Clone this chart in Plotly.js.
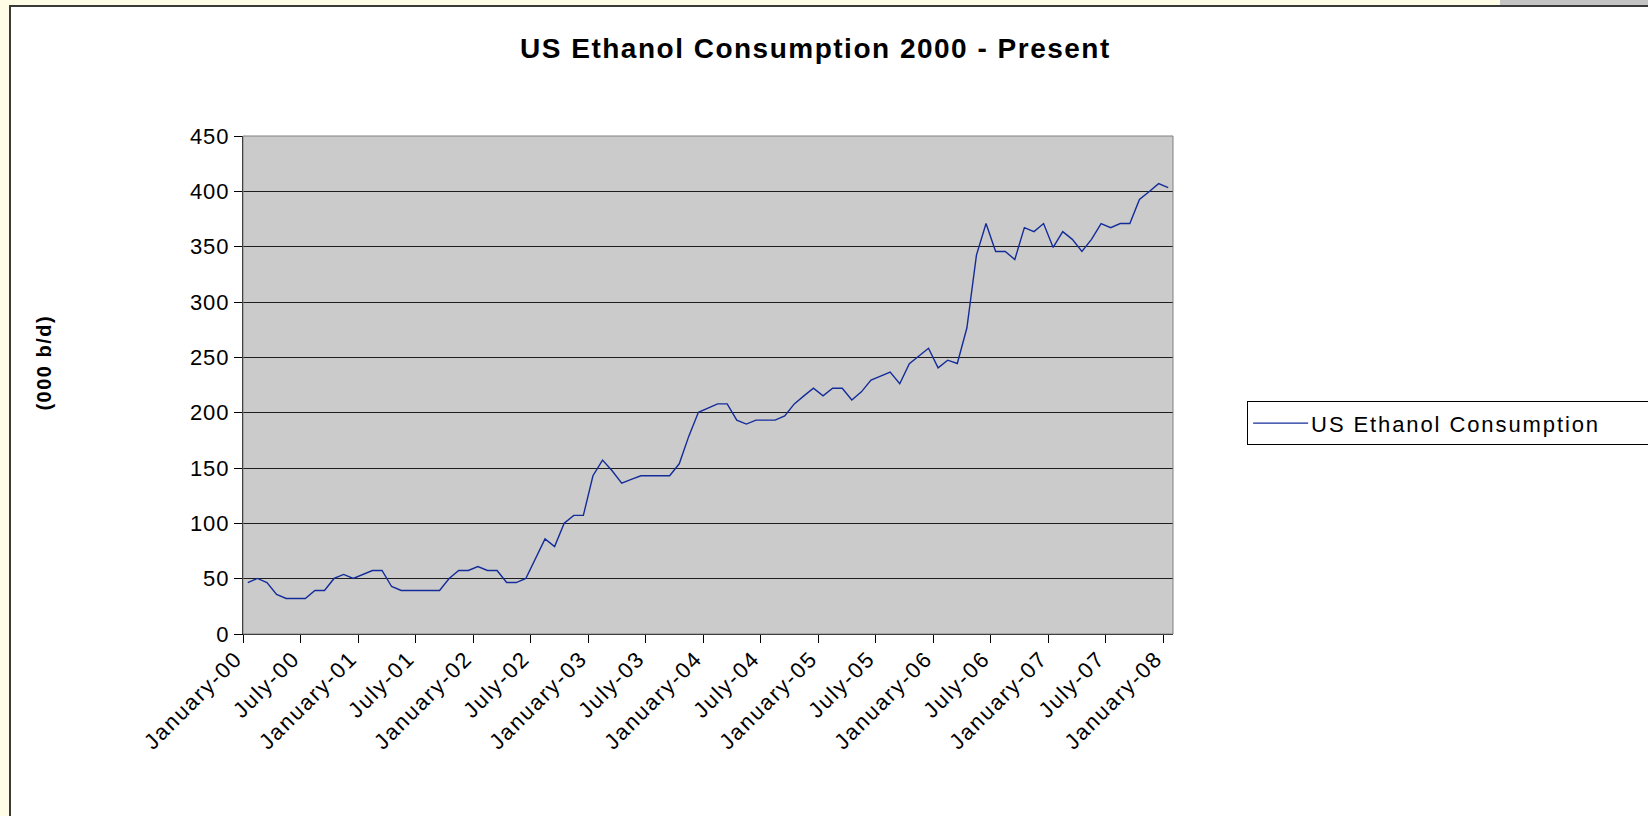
<!DOCTYPE html>
<html>
<head>
<meta charset="utf-8">
<script src="https://cdn.plot.ly/plotly-3.0.1.min.js"></script>
<style>
  html, body { margin: 0; padding: 0; width: 1648px; height: 816px; overflow: hidden; background: #fffde6; }
  #frame { position: absolute; left: 9px; top: 5px; width: 1639px; height: 811px; background: #ffffff;
           border-left: 2px solid #3a3a3a; border-top: 2px solid #3a3a3a; box-sizing: border-box; }
  #corner { position: absolute; left: 1500px; top: 0; width: 148px; height: 5px; background: #c4c4c4; }
  #chart { position: absolute; left: 0; top: 0; width: 1648px; height: 816px; }
  .gtitle { letter-spacing: 1.5px; }
  .xtick text { letter-spacing: 1.8px; }
  .ytick text { letter-spacing: 1px; }
  .legendtext { letter-spacing: 1.9px; }
  .annotation-text { letter-spacing: 1.5px; }
</style>
</head>
<body>
<div id="frame"></div>
<div id="corner"></div>
<div id="chart"></div>
<script>
// ---- data ----
const monthNames = ["January","February","March","April","May","June","July","August","September","October","November","December"];
const yearLabels = ["00","01","02","03","04","05","06","07","08"];
const seriesName = "US Ethanol Consumption";
// monthly US ethanol consumption, thousand barrels/day, Jan-2000 .. Jan-2008
const consumption = [
  46.5, 50.2, 46.5, 35.7, 32.1, 32.1, 32.1, 39.3, 39.3, 50.2, 53.8, 50.2,
  53.8, 57.4, 57.4, 42.9, 39.3, 39.3, 39.3, 39.3, 39.3, 50.2, 57.4, 57.4,
  61.0, 57.4, 57.4, 46.5, 46.5, 50.2, 68.2, 85.9, 79.0, 100.1, 107.2, 107.2,
  143.0, 157.1, 147.5, 136.2, 139.8, 143.0, 143.0, 143.0, 143.0, 153.8, 178.8, 200.3,
  204.2, 207.9, 207.9, 193.3, 189.7, 193.3, 193.3, 193.3, 197.0, 207.9, 215.2, 222.1,
  215.2, 222.1, 222.1, 211.5, 218.8, 229.4, 233.0, 236.7, 226.1, 244.2, 251.2, 258.2,
  240.5, 247.4, 244.4, 276.5, 342.4, 370.9, 345.7, 345.7, 338.4, 367.2, 363.6, 370.9,
  349.3, 363.6, 356.6, 345.7, 356.6, 370.9, 367.2, 370.9, 370.9, 392.7, 399.7, 407.0,
  403.3
];
const yTickVals = [0, 50, 100, 150, 200, 250, 300, 350, 400, 450];

// category labels "January-00" ... "January-08"
const months = [];
for (const y of yearLabels) {
  for (const m of monthNames) {
    if (months.length < consumption.length) months.push(m + "-" + y);
  }
}

const font = "Liberation Sans, Arial, Helvetica, sans-serif";

const trace = {
  type: "scatter",
  mode: "lines",
  name: seriesName,
  x: months,
  y: consumption,
  line: { color: "#142c9a", width: 1.4 },
  hoverinfo: "x+y"
};

const layout = {
  width: 1648,
  height: 816,
  paper_bgcolor: "rgba(0,0,0,0)",
  plot_bgcolor: "#cbcbcb",
  margin: { l: 243, r: 475, t: 136, b: 182, autoexpand: false },
  font: { family: font, size: 22, color: "#000" },
  title: {
    text: "US Ethanol Consumption 2000 - Present",
    font: { family: font, size: 28, color: "#000", weight: "bold" },
    xref: "container", x: 0.4948, xanchor: "center",
    yref: "container", y: 0.941, yanchor: "middle"
  },
  xaxis: {
    type: "category",
    categoryorder: "array",
    categoryarray: months,
    range: [-0.5, months.length - 0.5],
    tickmode: "linear",
    tick0: 0,
    dtick: 6,
    tickson: "boundaries",
    ticks: "outside",
    ticklen: 8,
    tickcolor: "#000",
    tickwidth: 1,
    tickangle: -45,
    ticklabelshift: -12,
    ticklabelstandoff: 2,
    tickfont: { family: font, size: 22, color: "#000" },
    showgrid: false,
    showline: true,
    linecolor: "#000",
    linewidth: 1,
    zeroline: false,
    fixedrange: true
  },
  yaxis: {
    range: [0, 450],
    tickmode: "array",
    tickvals: yTickVals,
    ticks: "outside",
    ticklen: 8,
    tickcolor: "#000",
    tickwidth: 1,
    tickfont: { family: font, size: 22, color: "#000" },
    showgrid: true,
    gridcolor: "#1e1e1e",
    gridwidth: 1,
    showline: true,
    linecolor: "#000",
    linewidth: 1,
    zeroline: false,
    fixedrange: true
  },
  shapes: [
    { type: "rect", xref: "paper", yref: "paper", x0: 0, x1: 1, y0: 0, y1: 1,
      line: { color: "#808080", width: 1 }, fillcolor: "rgba(0,0,0,0)", layer: "above" }
  ],
  annotations: [
    { text: "<b>(000 b/d)</b>", xref: "paper", yref: "paper", x: -0.2135, y: 0.546,
      xanchor: "center", yanchor: "middle", textangle: -90, showarrow: false,
      font: { family: font, size: 20, color: "#000" } }
  ],
  showlegend: true,
  legend: {
    orientation: "h",
    x: 1.0797, xanchor: "left",
    y: 0.423, yanchor: "middle",
    bgcolor: "#ffffff",
    bordercolor: "#000",
    borderwidth: 1,
    font: { family: font, size: 22, color: "#000" },
    entrywidth: 420,
    entrywidthmode: "pixels"
  }
};

Plotly.newPlot("chart", [trace], layout, { displayModeBar: false, staticPlot: true }).then(function (gd) {
  // widen the legend's line sample to the reference's longer stroke
  gd.querySelectorAll(".legendlines path").forEach(function (p) { p.setAttribute("d", "M5,0h55"); });
  gd.querySelectorAll(".legendtext").forEach(function (t) { t.setAttribute("x", "63"); });
});
</script>
</body>
</html>
